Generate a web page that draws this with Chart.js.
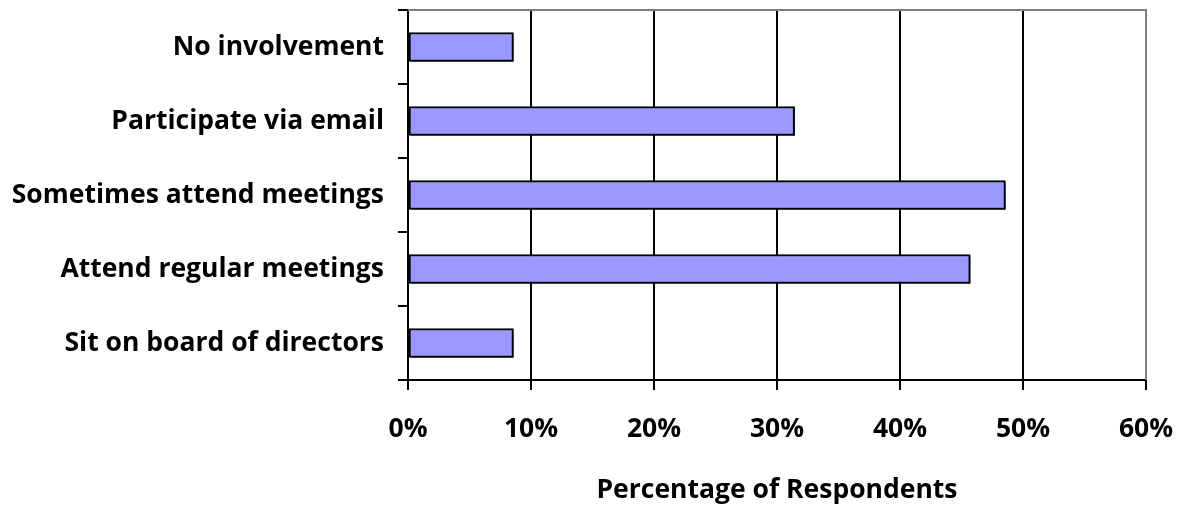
<!DOCTYPE html>
<html>
<head>
<meta charset="utf-8">
<script src="https://cdn.jsdelivr.net/npm/chart.js@4"></script>
<style>
  html, body { margin: 0; padding: 0; background: #fff; }
  #wrap { width: 1180px; height: 506px; }
</style>
</head>
<body>
<div id="wrap"><canvas id="chart"></canvas></div>
<script>
// data
const categories = ["No involvement", "Participate via email", "Sometimes attend meetings", "Attend regular meetings", "Sit on board of directors"];
const respondents = [0.0857, 0.3143, 0.4857, 0.4571, 0.0857];
const tickValues = [0, 0.1, 0.2, 0.3, 0.4, 0.5, 0.6];
const axisTitle = "Percentage of Respondents";

const FONT = "'Open Sans', sans-serif";

// top and right border of plot area in gray, plus bar shadow
const frame = {
    id: 'frame',
    beforeDatasetsDraw(chart) {
        const ctx = chart.ctx;
        ctx.save();
        ctx.shadowColor = 'rgba(0,0,0,0.45)';
        ctx.shadowBlur = 0;
        ctx.shadowOffsetX = 2;
        ctx.shadowOffsetY = 2;
    },
    afterDatasetsDraw(chart) {
        chart.ctx.restore();
    },
    afterDraw(chart) {
        const { ctx, chartArea: a } = chart;
        ctx.save();
        ctx.strokeStyle = '#808080';
        ctx.lineWidth = 2;
        ctx.beginPath();
        ctx.moveTo(a.left, a.top);
        ctx.lineTo(a.right, a.top);
        ctx.lineTo(a.right, a.bottom);
        ctx.stroke();
        ctx.restore();
    }
};

const noPad = s => { s.paddingTop = 0; s.paddingBottom = 0; s.paddingLeft = 0; s.paddingRight = 0; };

new Chart(document.getElementById('chart'), {
    type: 'bar',
    data: {
        labels: categories,
        datasets: [{
            data: respondents,
            backgroundColor: '#9999FF',
            borderColor: '#000',
            borderWidth: 2,
            borderSkipped: false,
            barThickness: 29
        }]
    },
    options: {
        indexAxis: 'y',
        responsive: true,
        maintainAspectRatio: false,
        animation: false,
        layout: { padding: { top: 10, right: 34, bottom: 0, left: 0 } },
        plugins: { legend: { display: false }, tooltip: { enabled: false } },
        scales: {
            x: {
                min: 0, max: 0.6,
                afterBuildTicks: s => { s.ticks = tickValues.map(v => ({ value: v })); },
                afterFit: s => { s.height = 126; noPad(s); },
                border: { color: '#000', width: 2 },
                grid: {
                    color: c => c.index === tickValues.length - 1 ? '#808080' : '#000',
                    lineWidth: 2,
                    tickLength: 10,
                    tickColor: '#000'
                },
                ticks: {
                    color: '#000',
                    padding: 24,
                    font: { family: FONT, size: 26.5, weight: 'bold' },
                    callback: v => Math.round(v * 100) + '%'
                },
                title: {
                    display: true,
                    text: axisTitle,
                    color: '#000',
                    font: { family: FONT, size: 26.5, weight: 'bold' },
                    padding: { top: 12, bottom: 0 }
                }
            },
            y: {
                afterFit: s => { s.width = 408; noPad(s); },
                border: { color: '#000', width: 2 },
                grid: {
                    drawOnChartArea: false,
                    lineWidth: 2,
                    color: '#000',
                    tickLength: 10
                },
                ticks: {
                    color: '#000',
                    padding: 14,
                    font: { family: FONT, size: 26.5, weight: 'bold' }
                }
            }
        }
    },
    plugins: [frame]
});
</script>
</body>
</html>
